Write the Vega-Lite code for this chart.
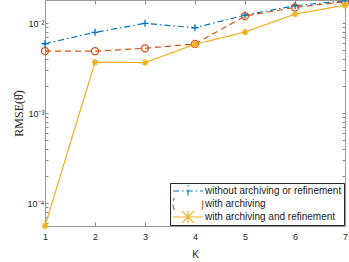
{
  "$schema": "https://vega.github.io/schema/vega-lite/v6.json",
  "autosize": {"type": "none"},
  "padding": {"left": 45, "top": 0, "right": 4, "bottom": 36},
  "width": 300,
  "height": 226,
  "background": "white",
  "config": {
    "view": {"stroke": null},
    "axis": {
      "domainColor": "#9a9a9a",
      "tickColor": "#6a6a6a",
      "labelColor": "#262626",
      "titleColor": "#262626",
      "labelFont": "Liberation Sans",
      "titleFont": "Liberation Sans",
      "labelFontSize": 9,
      "titleFontWeight": "normal",
      "grid": false,
      "domainWidth": 1,
      "tickWidth": 0.8
    },
    "legend": {
      "labelFont": "Liberation Sans",
      "labelFontSize": 10,
      "labelColor": "#1a1a1a"
    }
  },
  "data": {
    "values": [
      {"K": 1, "series": "without archiving or refinement", "value": 0.00593},
      {"K": 2, "series": "without archiving or refinement", "value": 0.00794},
      {"K": 3, "series": "without archiving or refinement", "value": 0.0100},
      {"K": 4, "series": "without archiving or refinement", "value": 0.00894},
      {"K": 5, "series": "without archiving or refinement", "value": 0.01236},
      {"K": 6, "series": "without archiving or refinement", "value": 0.0157},
      {"K": 7, "series": "without archiving or refinement", "value": 0.0178},
      {"K": 1, "series": "with archiving", "value": 0.00492},
      {"K": 2, "series": "with archiving", "value": 0.0049},
      {"K": 3, "series": "with archiving", "value": 0.00528},
      {"K": 4, "series": "with archiving", "value": 0.0059},
      {"K": 5, "series": "with archiving", "value": 0.01205},
      {"K": 6, "series": "with archiving", "value": 0.01507},
      {"K": 7, "series": "with archiving", "value": 0.0174},
      {"K": 1, "series": "with archiving and refinement", "value": 0.0000555},
      {"K": 2, "series": "with archiving and refinement", "value": 0.00369},
      {"K": 3, "series": "with archiving and refinement", "value": 0.00366},
      {"K": 4, "series": "with archiving and refinement", "value": 0.00585},
      {"K": 5, "series": "with archiving and refinement", "value": 0.0080},
      {"K": 6, "series": "with archiving and refinement", "value": 0.0127},
      {"K": 7, "series": "with archiving and refinement", "value": 0.0159}
    ]
  },
  "layer": [
    {
      "mark": {"type": "line", "strokeWidth": 1.2},
      "encoding": {
        "x": {
          "field": "K", "type": "quantitative",
          "scale": {"domain": [1, 7], "nice": false, "zero": false},
          "axis": {"orient": "bottom", "values": [1,2,3,4,5,6,7], "tickSize": -4, "labelPadding": 10, "title": "K", "titleFontSize": 10, "titlePadding": 8, "labelFlush": false}
        },
        "y": {
          "field": "value", "type": "quantitative",
          "scale": {"type": "log", "domain": [0.0000555, 0.0182], "nice": false, "zero": false},
          "axis": {
            "orient": "left",
            "values": [0.00006,0.00007,0.00008,0.00009,0.0001,0.0002,0.0003,0.0004,0.0005,0.0006,0.0007,0.0008,0.0009,0.001,0.002,0.003,0.004,0.005,0.006,0.007,0.008,0.009,0.01],
            "labelExpr": "datum.value == 0.01 ? '10⁻²' : datum.value == 0.001 ? '10⁻³' : datum.value == 0.0001 ? '10⁻⁴' : ''",
            "tickSize": -3,
            "labelPadding": 4,
            "title": "RMSE(θ̂)",
            "titleFont": "Liberation Serif",
            "titleFontSize": 12,
            "titlePadding": 2
          }
        },
        "color": {
          "field": "series", "type": "nominal",
          "scale": {"domain": ["without archiving or refinement", "with archiving", "with archiving and refinement"], "range": ["#0072BD", "#D95319", "#EDB120"]},
          "legend": {
            "title": null,
            "orient": "bottom-right",
            "offset": 1,
            "padding": 2,
            "fillColor": "white",
            "strokeColor": "#262626",
            "symbolOffset": 0,
            "labelOffset": 1,
            "rowPadding": 1,
            "clipHeight": 12,
            "symbolSize": 900,
            "encode": {
              "symbols": {
                "update": {
                  "shape": {"signal": "datum.value == 'without archiving or refinement' ? 'M-1,0L-0.73,0M-0.62,0L-0.55,0M-0.43,0L-0.17,0M0.17,0L0.43,0M0.55,0L0.62,0M0.73,0L1,0M-0.23,0L0.23,0M0,-0.23L0,0.23' : datum.value == 'with archiving' ? 'M-1,0L-0.68,0M-0.52,0L-0.23,0M0.23,0L0.52,0M0.68,0L1,0M-0.23,0L0.23,0M0.23,0A0.23,0.23,0,1,1,-0.23,0A0.23,0.23,0,1,1,0.23,0' : 'M-1,0L1,0M0,-0.21L0,0.21M-0.15,-0.15L0.15,0.15M-0.15,0.15L0.15,-0.15'"},
                  "size": {"value": 900},
                  "fill": {"value": "transparent"},
                  "strokeDash": {"value": [1, 0]},
                  "strokeWidth": {"value": 1.1},
                  "opacity": {"value": 1}
                }
              }
            }
          }
        },
        "strokeDash": {
          "field": "series", "type": "nominal",
          "scale": {"domain": ["without archiving or refinement", "with archiving", "with archiving and refinement"], "range": [[6, 3, 1.5, 3], [6, 4], [1, 0]]},
          "legend": null
        }
      }
    },
    {
      "mark": {"type": "point", "filled": false, "strokeWidth": 1.3, "size": 49, "opacity": 1},
      "encoding": {
        "x": {
          "field": "K", "type": "quantitative",
          "axis": {"orient": "top", "values": [1,2,3,4,5,6,7], "tickSize": -4, "labels": false, "title": null}
        },
        "y": {
          "field": "value", "type": "quantitative",
          "axis": {
            "orient": "right",
            "values": [0.00006,0.00007,0.00008,0.00009,0.0001,0.0002,0.0003,0.0004,0.0005,0.0006,0.0007,0.0008,0.0009,0.001,0.002,0.003,0.004,0.005,0.006,0.007,0.008,0.009,0.01],
            "tickSize": -3, "labels": false, "title": null
          }
        },
        "stroke": {
          "field": "series", "type": "nominal",
          "scale": {"domain": ["without archiving or refinement", "with archiving", "with archiving and refinement"], "range": ["#0072BD", "#D95319", "#EDB120"]},
          "legend": null
        },
        "shape": {
          "field": "series", "type": "nominal",
          "scale": {"domain": ["without archiving or refinement", "with archiving", "with archiving and refinement"], "range": ["M-1,0L1,0M0,-1L0,1", "circle", "M-1,0L1,0M0,-1L0,1M-0.7,-0.7L0.7,0.7M-0.7,0.7L0.7,-0.7"]},
          "legend": null
        }
      }
    }
  ],
  "resolve": {"axis": {"x": "independent", "y": "independent"}}
}
